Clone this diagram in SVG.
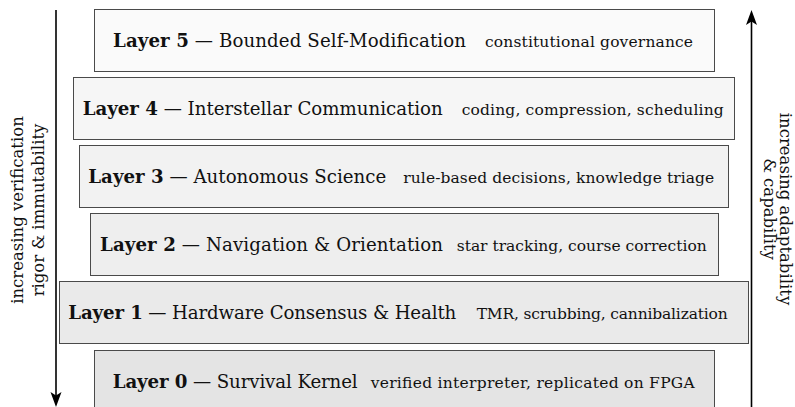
<svg xmlns="http://www.w3.org/2000/svg" width="795" height="407" viewBox="0 0 795 407">
<style>
.box{stroke:#4a4a4a;stroke-width:1}
.main{font-family:"DejaVu Serif","Liberation Serif",serif;font-size:18.2px;fill:#111}
.main .b{font-weight:bold}
.sub{font-family:"DejaVu Serif","Liberation Serif",serif;font-size:15.5px;fill:#111}
.lab{font-family:"DejaVu Serif","Liberation Serif",serif;font-size:16.5px;fill:#111;text-anchor:middle}
.axis{stroke:#000;stroke-width:1.6;fill:none}
.head{fill:#000;stroke:none}
</style>
<rect width="795" height="407" fill="#fff"/>
<g id="connectors">
<line class="axis" x1="56" y1="10" x2="56" y2="398"/>
<path class="head" d="M56,407 L50.5,392 L56,395.5 L61.5,392 Z"/>
<line class="axis" x1="751.5" y1="20" x2="751.5" y2="407"/>
<path class="head" d="M751.5,10 L746,25 L751.5,21.5 L757,25 Z"/>
</g>
<g id="label-left">
<text class="lab" transform="translate(23,210) rotate(-90)">increasing verification</text>
<text class="lab" transform="translate(44,210) rotate(-90)">rigor &amp; immutability</text>
</g>
<g id="label-right">
<text class="lab" transform="translate(780,209) rotate(90)">increasing adaptability</text>
<text class="lab" transform="translate(764,209) rotate(90)">&amp; capability</text>
</g>
<g id="layer5">
<rect class="box" x="94.5" y="9.5" width="620" height="62" fill="#fafafa"/>
<text class="main" x="113" y="47" textLength="353"><tspan class="b">Layer 5</tspan> — Bounded Self-Modification</text>
<text class="sub" x="485" y="47" textLength="208">constitutional governance</text>
</g>
<g id="layer4">
<rect class="box" x="73.5" y="77.5" width="661" height="62" fill="#f6f6f6"/>
<text class="main" x="82.7" y="115" textLength="360"><tspan class="b">Layer 4</tspan> — Interstellar Communication</text>
<text class="sub" x="461.7" y="115" textLength="262">coding, compression, scheduling</text>
</g>
<g id="layer3">
<rect class="box" x="79.5" y="145.5" width="649" height="62" fill="#f2f2f2"/>
<text class="main" x="88.3" y="183" textLength="298"><tspan class="b">Layer 3</tspan> — Autonomous Science</text>
<text class="sub" x="403.3" y="183" textLength="311">rule-based decisions, knowledge triage</text>
</g>
<g id="layer2">
<rect class="box" x="90.5" y="213.5" width="628" height="62" fill="#eeeeee"/>
<text class="main" x="100" y="251" textLength="343"><tspan class="b">Layer 2</tspan> — Navigation &amp; Orientation</text>
<text class="sub" x="456.7" y="251" textLength="250">star tracking, course correction</text>
</g>
<g id="layer1">
<rect class="box" x="59.5" y="281.5" width="689" height="62" fill="#eaeaea"/>
<text class="main" x="68.3" y="319" textLength="388"><tspan class="b">Layer 1</tspan> — Hardware Consensus &amp; Health</text>
<text class="sub" x="476.7" y="319" textLength="251">TMR, scrubbing, cannibalization</text>
</g>
<g id="layer0">
<rect class="box" x="94.5" y="350.5" width="620" height="62" fill="#e4e4e4"/>
<text class="main" x="112.7" y="388" textLength="245"><tspan class="b">Layer 0</tspan> — Survival Kernel</text>
<text class="sub" x="370.7" y="388" textLength="324">verified interpreter, replicated on FPGA</text>
</g>
</svg>
